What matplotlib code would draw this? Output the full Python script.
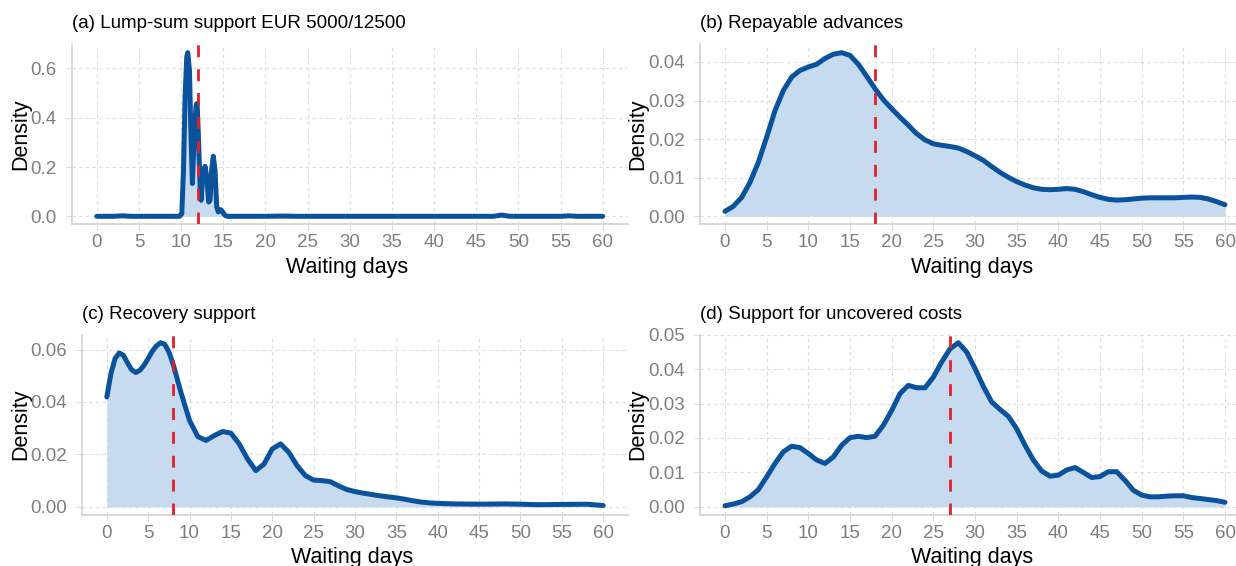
import matplotlib
matplotlib.use("Agg")
import matplotlib.pyplot as plt

plt.rcParams['font.family'] = ['Liberation Sans', 'DejaVu Sans']

# ---- data: estimated densities of waiting days per support scheme ----
titles = [
    "(a) Lump-sum support EUR 5000/12500",
    "(b) Repayable advances",
    "(c) Recovery support",
    "(d) Support for uncovered costs",
]
medians = [12, 18, 8, 27]

days_a = [0, 1, 2, 3, 4, 5, 9.8, 10.08, 10.28, 10.47, 10.67, 10.79, 10.99, 11.15,
          11.34, 11.58, 11.78, 11.90, 12.06, 12.26, 12.37, 12.56, 12.84, 13.04,
          13.27, 13.43, 13.62, 13.82, 14.02, 14.22, 14.41, 14.69, 14.92, 15.2,
          15.5, 20, 22, 24, 30, 40, 47, 48, 49, 55, 56, 57, 60]
dens_a = [0.0, 0.0, 0.0, 0.002, 0.0, 0.0, 0.0, 0.011, 0.187, 0.485, 0.648, 0.664,
          0.593, 0.35, 0.133, 0.35, 0.451, 0.458, 0.322, 0.106, 0.065, 0.16,
          0.203, 0.16, 0.058, 0.065, 0.187, 0.244, 0.187, 0.038, 0.018, 0.027,
          0.018, 0.004, 0.0, 0.0, 0.001, 0.0, 0.0, 0.0, 0.0, 0.005, 0.0, 0.0,
          0.002, 0.0, 0.0]

days_b = list(range(0, 61))
dens_b = [0.0013, 0.0026, 0.0049, 0.0088, 0.0140, 0.0205, 0.0274, 0.0326, 0.0361,
          0.0378, 0.0387, 0.0394, 0.0409, 0.0420, 0.0424, 0.0417, 0.0394, 0.0363,
          0.0331, 0.0302, 0.0279, 0.0257, 0.0236, 0.0214, 0.0198, 0.0188, 0.0184,
          0.0181, 0.0177, 0.0168, 0.0157, 0.0145, 0.0129, 0.0114, 0.0101, 0.0090,
          0.0081, 0.0074, 0.0070, 0.0069, 0.0070, 0.0072, 0.0070, 0.0064, 0.0056,
          0.0049, 0.0044, 0.0042, 0.0043, 0.0045, 0.0047, 0.0048, 0.0048, 0.0048,
          0.0048, 0.0049, 0.0050, 0.0049, 0.0045, 0.0038, 0.0030]

days_c = [0, 0.5, 1, 1.5, 2, 2.5, 3, 3.5, 4, 4.5, 5, 5.5, 6, 6.5, 7, 7.5, 8, 9, 10,
          11, 12, 13, 14, 15, 16, 17, 18, 19, 20, 21, 22, 23, 24, 25, 26, 27, 28,
          29, 30, 31, 32, 33, 34, 35, 36, 37, 38, 39, 40, 42, 45, 48, 50, 52, 55,
          58, 60]
dens_c = [0.0419, 0.0508, 0.0566, 0.0587, 0.0578, 0.0549, 0.0523, 0.0512, 0.0521,
          0.0540, 0.0566, 0.0594, 0.0614, 0.0626, 0.0620, 0.0591, 0.0546, 0.0432,
          0.0329, 0.0268, 0.0253, 0.0272, 0.0287, 0.0281, 0.0240, 0.0183, 0.0138,
          0.0163, 0.0221, 0.0240, 0.0208, 0.0157, 0.0119, 0.0102, 0.0100, 0.0096,
          0.0080, 0.0066, 0.0058, 0.0052, 0.0047, 0.0042, 0.0038, 0.0034, 0.0029,
          0.0023, 0.0018, 0.0015, 0.0013, 0.0011, 0.0010, 0.0011, 0.0010, 0.0008,
          0.0009, 0.0010, 0.0005]

days_d = list(range(0, 61))
dens_d = [0.0003, 0.0008, 0.0015, 0.0029, 0.0050, 0.0087, 0.0126, 0.0160, 0.0176,
          0.0172, 0.0155, 0.0136, 0.0126, 0.0145, 0.0179, 0.0201, 0.0205, 0.0201,
          0.0205, 0.0237, 0.0280, 0.0329, 0.0353, 0.0346, 0.0346, 0.0377, 0.0421,
          0.0459, 0.0477, 0.0450, 0.0402, 0.0350, 0.0305, 0.0283, 0.0263, 0.0227,
          0.0179, 0.0136, 0.0104, 0.0089, 0.0092, 0.0107, 0.0114, 0.0100, 0.0085,
          0.0088, 0.0102, 0.0102, 0.0077, 0.0048, 0.0034, 0.0029, 0.0029, 0.0031,
          0.0032, 0.0032, 0.0027, 0.0024, 0.0021, 0.0018, 0.0013]

yticks = [
    [0.0, 0.2, 0.4, 0.6],
    [0.00, 0.01, 0.02, 0.03, 0.04],
    [0.00, 0.02, 0.04, 0.06],
    [0.00, 0.01, 0.02, 0.03, 0.04, 0.05],
]
yfmt = ["{:.1f}", "{:.2f}", "{:.2f}", "{:.2f}"]
xticks = list(range(0, 61, 5))

series = [(days_a, dens_a), (days_b, dens_b), (days_c, dens_c), (days_d, dens_d)]

# ---- layout (pixel boxes: left, right, top, bottom) ----
W, H = 1236, 566
boxes = [
    (71.5, 628, 44.5, 224.5),
    (700, 1250, 44.5, 224.5),
    (82, 628, 334.5, 515),
    (700, 1250, 334.5, 515),
]
ylabel_x = [20.5, 638, 20.5, 637.5]
title_base = [28.5, 28.5, 319, 319]
xlabel_base = [273, 273, 562.5, 562.5]

LINE = '#0b529d'
FILL = '#c6dbef'
RED = '#e0202b'
GRID = '#dcdcdc'
AXIS = '#d2d2d2'
TICKTXT = '#7f7f7f'

fig = plt.figure(figsize=(W / 100, H / 100), dpi=100)
fig.patch.set_facecolor('white')

for i, (x, y) in enumerate(series):
    l, r, t, b = boxes[i]
    ax = fig.add_axes([l / W, 1 - b / H, (r - l) / W, (b - t) / H])
    ymax = max(y)
    ax.set_xlim(-3, 63)
    ax.set_ylim(-0.05 * ymax, 1.05 * ymax)

    ax.fill_between(x, 0, y, color=FILL, lw=0, zorder=2)
    ax.plot(x, y, color=LINE, lw=3.6, solid_capstyle='round',
            solid_joinstyle='round', zorder=3)
    ax.axvline(medians[i], color=RED, lw=2.0, ls=(0, (4.3, 4.3)), zorder=4)

    ax.set_xticks(xticks)
    ax.set_xticklabels([str(v) for v in xticks])
    ax.set_yticks(yticks[i])
    ax.set_yticklabels([yfmt[i].format(v) for v in yticks[i]])

    ax.grid(True, color=GRID, lw=0.8, ls=(0, (3, 3)), zorder=0)
    ax.set_axisbelow(True)
    for s in ['top', 'right']:
        ax.spines[s].set_visible(False)
    for s in ['left', 'bottom']:
        ax.spines[s].set_color(AXIS)
        ax.spines[s].set_linewidth(1.2)
    ax.tick_params(axis='x', length=4, width=0.8, color=GRID, pad=3,
                   labelsize=13.5, labelcolor=TICKTXT)
    ax.tick_params(axis='y', length=4, width=0.8, color=GRID, pad=7,
                   labelsize=13.5, labelcolor=TICKTXT)

    fig.text(l / W, 1 - title_base[i] / H, titles[i], fontsize=13.5,
             color='black', ha='left', va='baseline')
    fig.text(ylabel_x[i] / W, 1 - ((t + b) / 2) / H, "Density", fontsize=15.5,
             rotation=90, ha='center', va='center', color='black')
    fig.text(((l + min(r, 1250)) / 2 - 3) / W, 1 - xlabel_base[i] / H,
             "Waiting days", fontsize=15.5, ha='center', va='baseline',
             color='black')

fig.savefig("out.png", dpi=100, facecolor='white')
